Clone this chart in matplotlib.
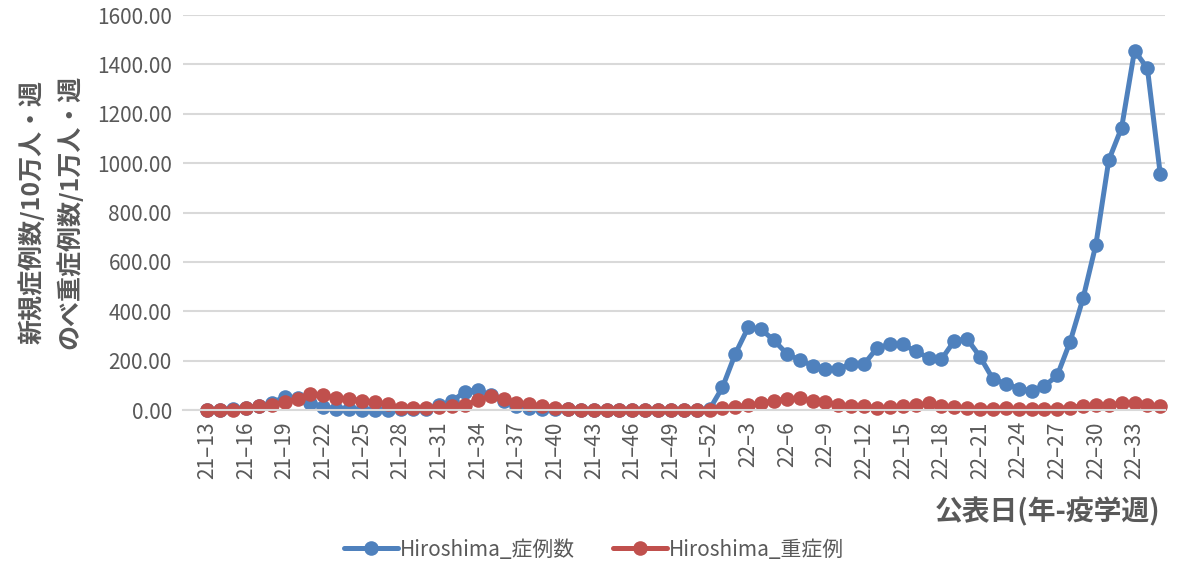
import matplotlib
matplotlib.use("Agg")
import matplotlib.pyplot as plt
from matplotlib.ticker import FuncFormatter

plt.rcParams['font.family'] = ['Noto Sans CJK JP', 'DejaVu Sans']

# categories: year-epi week
weeks = [f"21–{w}" for w in range(13, 53)] + [f"22–{w}" for w in range(1, 36)]

# new cases per 100k per week
cases = [2, 2, 5, 10, 15, 30, 52, 50, 30, 12,
         5, 5, 2, 2, 2, 3, 3, 5, 20, 35,
         75, 82, 60, 35, 18, 10, 6, 4, 3, 2,
         2, 1, 1, 1, 1, 1, 1, 1, 2, 3,
         92, 228, 335, 327, 282, 228, 202, 180, 165, 168,
         185, 186, 251, 266, 266, 238, 212, 205, 280, 288,
         216, 126, 107, 87, 78, 97, 140, 277, 452, 670,
         1012, 1144, 1456, 1384, 955]

# severe cases per 10k per week
severe = [0, 1, 2, 8, 15, 20, 34, 43, 66, 60,
          47, 45, 38, 32, 23, 10, 8, 8, 13, 16,
          20, 40, 57, 43, 30, 23, 16, 10, 6, 2,
          1, 1, 1, 1, 1, 1, 1, 1, 1, 1,
          7, 11, 21, 27, 38, 44, 47, 38, 34, 21,
          17, 17, 8, 11, 16, 20, 27, 17, 12, 7,
          6, 6, 7, 3, 3, 6, 6, 10, 17, 21,
          21, 27, 27, 21, 17]

series_names = ["Hiroshima_症例数", "Hiroshima_重症例"]
colors = ["#4F81BD", "#C0504D"]
grey = "#595959"

fig = plt.figure(figsize=(11.88, 5.69), dpi=100)
ax = fig.add_axes([0.154, 0.2794, 0.827, 0.6942])

x = list(range(len(weeks)))
for vals, name, c in zip([cases, severe], series_names, colors):
    ax.plot(x, vals, color=c, lw=3.6, marker='o', markersize=10.5,
            markeredgewidth=0, label=name, solid_capstyle='round', clip_on=False)

ax.set_ylim(0, 1600)
ax.set_yticks(range(0, 1601, 200))
ax.yaxis.set_major_formatter(FuncFormatter(lambda v, p: f"{v:.2f}"))
ax.set_xlim(-1.9, 74.4)
ax.set_xticks(x[::3])
ax.set_xticklabels(weeks[::3], rotation=90)

ax.grid(axis='y', color='#D9D9D9', lw=1.5)
ax.set_axisbelow(True)
for s in ['top', 'right', 'left']:
    ax.spines[s].set_visible(False)
ax.spines['bottom'].set_color('#D9D9D9')
ax.spines['bottom'].set_linewidth(1.5)
ax.tick_params(axis='both', length=0, colors=grey, labelsize=15)
ax.tick_params(axis='y', pad=8)
ax.tick_params(axis='x', pad=8)

fig.text(0.026, 0.627, "新規症例数/10万人・週", rotation=90, ha='center', va='center',
         fontsize=18, fontweight='bold', color=grey)
fig.text(0.058, 0.627, "のべ重症例数/1万人・週", rotation=90, ha='center', va='center',
         fontsize=18, fontweight='bold', color=grey)
fig.text(0.977, 0.10, "公表日(年-疫学週)", ha='right', va='center',
         fontsize=20, fontweight='bold', color=grey)

leg = fig.legend(loc='center', bbox_to_anchor=(0.5, 0.034), ncol=2, frameon=False,
                 fontsize=15, handlelength=2.6, handletextpad=0.1, columnspacing=1.8)
for t in leg.get_texts():
    t.set_color(grey)

fig.savefig("out.png", dpi=100)
